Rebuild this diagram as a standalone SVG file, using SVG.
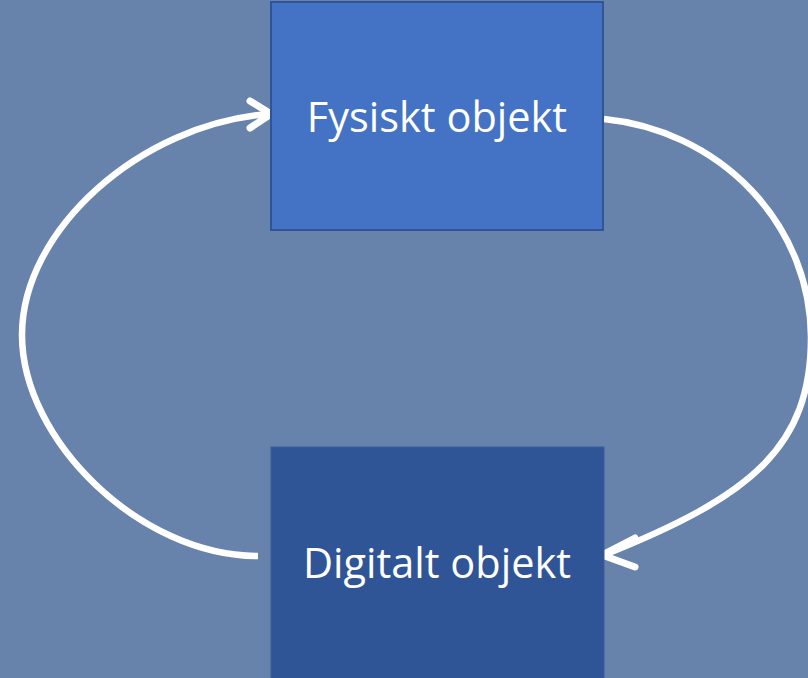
<svg xmlns="http://www.w3.org/2000/svg" width="808" height="678" viewBox="0 0 808 678">
<style>
.bg{fill:#6783ab}
.box1{fill:#4472c4;stroke:#2f5597;stroke-width:2}
.box2{fill:#2f5597;stroke:#3a5f9e;stroke-width:1}
.lbl{font-family:"Open Sans","Noto Sans","Liberation Sans",sans-serif;font-size:41.5px;fill:#ffffff;text-anchor:middle}
.arc{fill:none;stroke:#ffffff;stroke-width:6.5}
.head{fill:none;stroke:#ffffff;stroke-width:7;stroke-linecap:round;stroke-linejoin:round}
</style>
<rect class="bg" x="0" y="0" width="808" height="678"/>
<g id="connectors">
<path class="arc" d="M258,556 C140,556 22,440 22,335 C22,230 140,124 269,114"/>
<path class="head" d="M250,101 L271,114 L250,128"/>
<path class="arc" d="M604,119 A231,220 0 0 1 811,337 C811,447 752,496 604,555"/>
<path class="head" d="M635,538 L602,555 L635,567"/>
</g>
<g id="node-fysiskt">
<rect class="box1" x="271" y="2" width="332" height="228"/>
<text class="lbl" x="437" y="132">Fysiskt objekt</text>
</g>
<g id="node-digitalt">
<rect class="box2" x="271" y="447" width="333" height="240"/>
<text class="lbl" x="437" y="578">Digitalt objekt</text>
</g>
</svg>
